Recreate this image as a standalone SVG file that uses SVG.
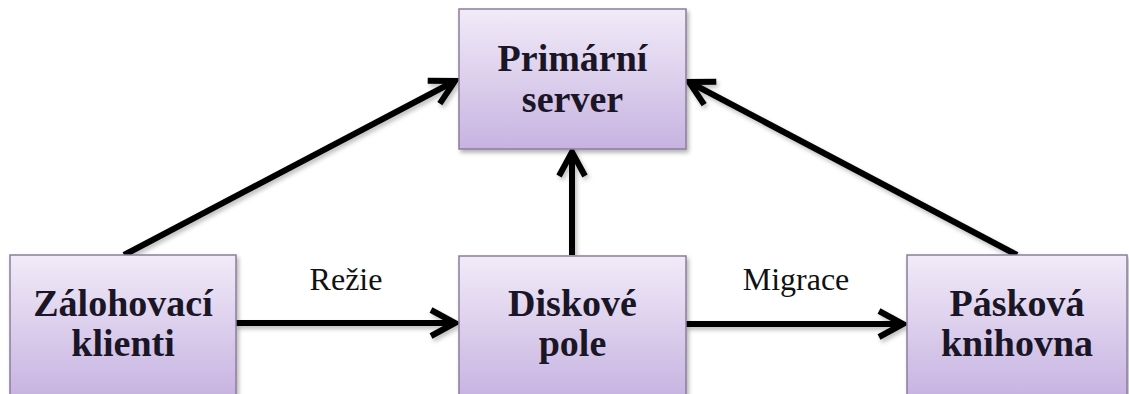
<svg xmlns="http://www.w3.org/2000/svg" width="1129" height="394" viewBox="0 0 1129 394">
<defs>
<linearGradient id="boxFill" x1="0" y1="0" x2="0" y2="1">
<stop offset="0" stop-color="#f1ebf8"/>
<stop offset="1" stop-color="#c7b3e1"/>
</linearGradient>
<filter id="shadow" x="-10%" y="-10%" width="130%" height="130%">
<feDropShadow dx="2" dy="3" stdDeviation="2" flood-color="#000" flood-opacity="0.3"/>
</filter>
<filter id="lineShadow" filterUnits="userSpaceOnUse" x="0" y="0" width="1129" height="394">
<feDropShadow dx="2" dy="3" stdDeviation="2" flood-color="#000" flood-opacity="0.25"/>
</filter>
<marker id="arrow" markerUnits="userSpaceOnUse" viewBox="-30 -20 40 40" refX="0" refY="0" markerWidth="40" markerHeight="40" orient="auto">
<path d="M-24,-13 L0,0 L-24,13" fill="none" stroke="#000" stroke-width="6" stroke-linejoin="miter"/>
</marker>
</defs>
<style>
.box{fill:url(#boxFill);stroke:#8a7d9c;stroke-width:1.5;filter:url(#shadow)}
.lbl{font-family:"Liberation Serif","Times New Roman",serif;font-weight:bold;font-size:38px;fill:#1a1626;text-anchor:middle}
.edge{font-family:"Liberation Serif","Times New Roman",serif;font-size:32px;fill:#111;text-anchor:middle}
.conn{stroke:#000;stroke-width:6;fill:none;marker-end:url(#arrow)}
</style>
<rect width="1129" height="394" fill="#fff"/>
<g id="connectors" filter="url(#lineShadow)">
<line class="conn" x1="124" y1="255" x2="455" y2="81"/>
<line class="conn" x1="1017" y1="255" x2="689" y2="82"/>
<line class="conn" x1="572" y1="255" x2="572" y2="152"/>
<line class="conn" x1="236" y1="323" x2="455" y2="323"/>
<line class="conn" x1="686" y1="324" x2="903" y2="324"/>
</g>
<g id="edge-labels">
<text class="edge" x="346" y="290">Režie</text>
<text class="edge" x="796" y="290">Migrace</text>
</g>
<g id="primarni-server">
<rect class="box" x="459" y="9" width="227" height="140"/>
<text class="lbl" x="572.5" y="71">Primární</text>
<text class="lbl" x="572.5" y="112">server</text>
</g>
<g id="zalohovaci-klienti">
<rect class="box" x="10" y="255" width="226" height="142"/>
<text class="lbl" x="123" y="316">Zálohovací</text>
<text class="lbl" x="123" y="356">klienti</text>
</g>
<g id="diskove-pole">
<rect class="box" x="459" y="256" width="227" height="142"/>
<text class="lbl" x="572.5" y="316">Diskové</text>
<text class="lbl" x="572.5" y="356">pole</text>
</g>
<g id="paskova-knihovna">
<rect class="box" x="907" y="255" width="220" height="142"/>
<text class="lbl" x="1017" y="316">Pásková</text>
<text class="lbl" x="1017" y="356">knihovna</text>
</g>
</svg>
